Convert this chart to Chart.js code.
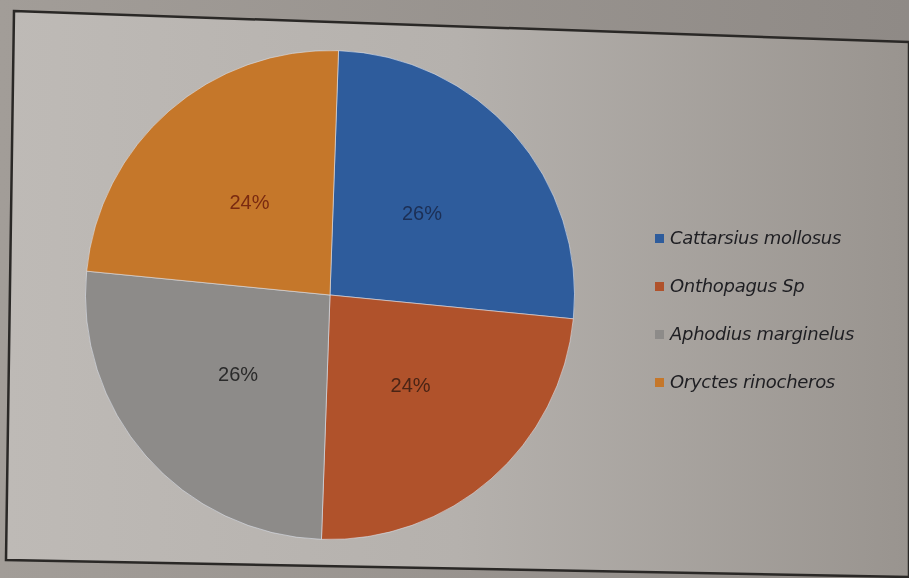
<!DOCTYPE html>
<html lang="en">
<head>
    <meta charset="UTF-8">
    <title>Beetle species share</title>
    <script src="https://cdn.jsdelivr.net/npm/chart.js"></script>
    <style>
        html, body { margin: 0; padding: 0; }
        body {
            width: 909px; height: 578px; overflow: hidden; position: relative;
            background: linear-gradient(90deg, #a29d98 0%, #8f8a86 100%);
        }
        #frame { position: absolute; left: 0; top: 0; }
        #pieChart { position: absolute; left: 0; top: 0; }
        #legend {
            position: absolute; left: 655px; top: 225px;
            font-family: "DejaVu Sans", sans-serif;
            font-style: italic; font-size: 18px; color: #1e1e22;
            letter-spacing: -0.3px;
        }
        #legend div { height: 48px; line-height: 26px; white-space: nowrap; }
        #legend span.box {
            display: inline-block; width: 9px; height: 9px; margin-right: 6px;
            vertical-align: 1px;
        }
    </style>
</head>
<body>
    <svg id="frame" width="909" height="578">
        <defs>
            <linearGradient id="paper" x1="0" y1="0" x2="1" y2="0">
                <stop offset="0" stop-color="#bebab6"/>
                <stop offset="0.5" stop-color="#b5b1ad"/>
                <stop offset="1" stop-color="#99948f"/>
            </linearGradient>
        </defs>
        <polygon points="14,11 909,42 909,577 6,560" fill="url(#paper)" stroke="#2a2826" stroke-width="2.5"/>
    </svg>
    <canvas id="pieChart" width="909" height="578"></canvas>
    <div id="legend"></div>

    <script>
        // species and their share (%)
        const species = ['Cattarsius mollosus', 'Onthopagus Sp', 'Aphodius marginelus', 'Oryctes rinocheros'];
        const shares = [26, 24, 26, 24];
        const colours = ['#2e5c9c', '#b0522b', '#8d8b89', '#c5772a'];
        const labelColours = ['#1c2f55', '#4a2415', '#2a2a2a', '#7a2a10'];

        // percentage labels in the middle of each slice
        const sliceLabels = {
            id: 'sliceLabels',
            afterDatasetsDraw(chart) {
                const ctx = chart.ctx;
                const total = shares.reduce((a, b) => a + b, 0);
                chart.getDatasetMeta(0).data.forEach((arc, i) => {
                    const p = arc.tooltipPosition();
                    ctx.save();
                    ctx.font = '20px "Liberation Sans", sans-serif';
                    ctx.fillStyle = labelColours[i];
                    ctx.textAlign = 'center';
                    ctx.textBaseline = 'middle';
                    ctx.fillText(Math.round(shares[i] / total * 100) + '%', p.x, p.y);
                    ctx.restore();
                });
            }
        };

        const ctx = document.getElementById('pieChart').getContext('2d');
        new Chart(ctx, {
            type: 'pie',
            data: {
                labels: species,
                datasets: [{
                    data: shares,
                    backgroundColor: colours,
                    borderColor: 'rgba(220,225,235,0.6)',
                    borderWidth: 1
                }]
            },
            options: {
                responsive: false,
                animation: false,
                rotation: 2,
                layout: { padding: { left: 85, right: 334, top: 50, bottom: 38 } },
                plugins: {
                    legend: { display: false },
                    tooltip: { enabled: false }
                }
            },
            plugins: [sliceLabels]
        });

        // legend on the right
        const legend = document.getElementById('legend');
        species.forEach((name, i) => {
            const row = document.createElement('div');
            const box = document.createElement('span');
            box.className = 'box';
            box.style.background = colours[i];
            row.appendChild(box);
            row.appendChild(document.createTextNode(name));
            legend.appendChild(row);
        });
    </script>
</body>
</html>
